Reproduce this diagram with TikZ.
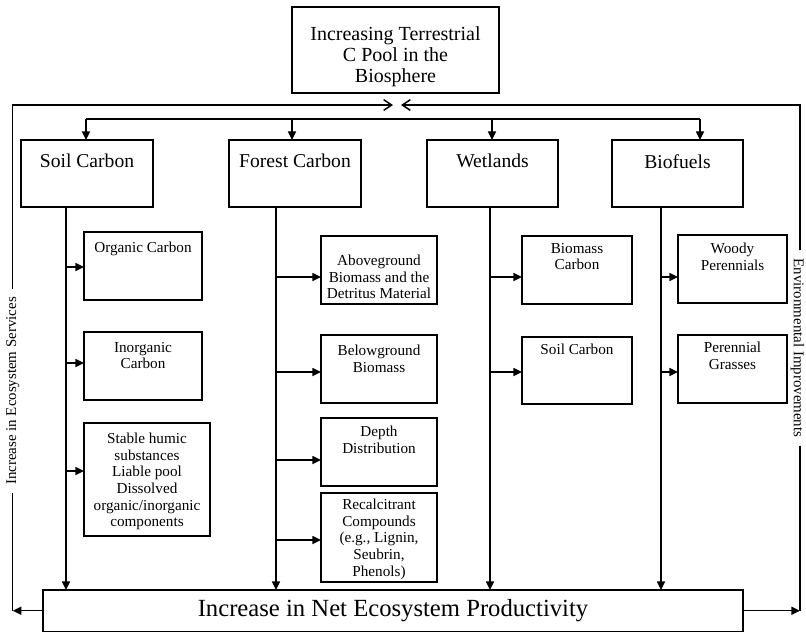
\documentclass[tikz,border=0pt]{standalone}
\usepackage{fontspec}
\setmainfont{Liberation Serif}
\usetikzlibrary{arrows.meta}

\tikzset{
  boxframe/.style={draw, line width=1.3pt, inner sep=0pt, outer sep=0pt},
  conn/.style={line width=1.1pt},
  arr/.style={conn, -{Triangle[length=6.5pt,width=6pt]}},
  openarr/.style={conn, -{Straight Barb[length=6pt,width=8pt]}},
  toptxt/.style={inner sep=0pt, align=center, font=\fontsize{15}{15.75}\selectfont},
  headtxt/.style={inner sep=0pt, align=center, font=\fontsize{14.7}{16}\selectfont},
  subtxt/.style={inner sep=0pt, align=center, font=\fontsize{11.4}{12.5}\selectfont},
  sidetxt/.style={inner xsep=6pt, inner ysep=0pt, font=\fontsize{11.2}{12}\selectfont},
  bottxt/.style={font=\fontsize{18.5}{20}\selectfont},
}

% \cbox{name}{x1}{y1}{x2}{y2}{text offset}{text style}{text}  (coordinates in px)
\newcommand\cbox[8]{%
  \node[boxframe, anchor=north west,
        minimum width={(#4-#2)*0.75pt}, minimum height={(#5-#3)*0.75pt}] (#1) at (#2,#3) {};
  \node[#7, anchor=north] (#1-txt) at ([yshift={-(#6)*0.75pt}]#1.north) {#8};
}
% \branch{trunk coordinate}{target box}{offset of the arrow below the box middle}
\newcommand\branch[3]{%
  \coordinate (#2-in) at ([yshift={-(#3)*0.75pt}]#2.west);
  \draw[arr] (#1 |- #2-in) -- (#2-in);
}

\begin{document}
\begin{tikzpicture}[x=0.75pt, y=-0.75pt]
\useasboundingbox (0,0) rectangle (806,633);

% goal box
\cbox{tp}{292}{7}{499}{93}{19}{toptxt}{Increasing Terrestrial\\C Pool in the\\Biosphere}

% four carbon pools
\cbox{sc}{21}{140}{153}{207}{14}{headtxt}{Soil Carbon}
\cbox{fc}{229}{140}{361}{207}{14}{headtxt}{Forest Carbon}
\cbox{wl}{427}{140}{558}{207}{14}{headtxt}{Wetlands}
\cbox{bf}{612}{140}{743}{207}{14}{headtxt}{Biofuels}

% soil carbon components
\cbox{oc}{84}{232}{202}{300}{9.7}{subtxt}{Organic Carbon}
\cbox{ic}{84}{332}{202}{400}{9.7}{subtxt}{Inorganic\\Carbon}
\cbox{sh}{84}{423}{210}{536}{9.7}{subtxt}{Stable humic\\substances\\Liable pool\\Dissolved\\organic/inorganic\\components}

% forest carbon components
\cbox{ag}{321}{236}{437}{304}{18.7}{subtxt}{Aboveground\\Biomass and the\\Detritus Material}
\cbox{bg}{321}{335}{437}{403}{9.7}{subtxt}{Belowground\\Biomass}
\cbox{dd}{321}{418}{437}{486}{7.7}{subtxt}{Depth\\Distribution}
\cbox{rc}{321}{493}{437}{582}{5.7}{subtxt}{Recalcitrant\\Compounds\\(e.g., Lignin,\\Seubrin,\\Phenols)}

% wetland components
\cbox{bm}{522}{236}{632}{304}{6.7}{subtxt}{Biomass\\Carbon}
\cbox{sw}{522}{337}{632}{404}{6.7}{subtxt}{Soil Carbon}

% biofuel components
\cbox{wp}{678}{235}{787}{303}{7.7}{subtxt}{Woody\\Perennials}
\cbox{pg}{678}{335}{787}{403}{6.7}{subtxt}{Perennial\\Grasses}

% outcome box
\node[boxframe, bottxt, anchor=north west, minimum width={700*0.75pt},
      minimum height={41.5*0.75pt}] (np) at (43,590) {Increase in Net Ecosystem Productivity};

% distribution line feeding the four pools
\coordinate (d1) at (86,119);
\coordinate (d2) at (292,119);
\coordinate (d3) at (492,119);
\coordinate (d4) at (700,119);
\draw[conn] (d1) -- (d4);
\draw[arr] (d1) -- (sc.north -| d1);
\draw[arr] (d2) -- (fc.north -| d2);
\draw[arr] (d3) -- (wl.north -| d3);
\draw[arr] (d4) -- (bf.north -| d4);

% trunks down to the outcome box
\coordinate (ts) at (66,0);
\coordinate (tf) at (276,0);
\coordinate (tw) at (490,0);
\coordinate (tb) at (661,0);
\draw[arr] (sc.south -| ts) -- (np.north -| ts);
\draw[arr] (fc.south -| tf) -- (np.north -| tf);
\draw[arr] (wl.south -| tw) -- (np.north -| tw);
\draw[arr] (bf.south -| tb) -- (np.north -| tb);

% branches to the components
\branch{ts}{oc}{1}
\branch{ts}{ic}{-3}
\branch{ts}{sh}{-8.5}
\branch{tf}{ag}{7}
\branch{tf}{bg}{3}
\branch{tf}{dd}{8}
\branch{tf}{rc}{2.5}
\branch{tw}{bm}{7}
\branch{tw}{sw}{1.5}
\branch{tb}{wp}{8}
\branch{tb}{pg}{3}

% feedback loop back to the terrestrial pool
\coordinate (lx) at (12.7,0);
\coordinate (rx) at (800,0);
\node[sidetxt, rotate=90] (ls) at (12.7,391) {Increase in Ecosystem Services};
\node[sidetxt, rotate=-90] (rs) at (797.5,348) {Environmental Improvements};
\coordinate (tipL) at (393,105);
\coordinate (tipR) at (401,105);
\draw[openarr] (ls.east) |- (tipL);
\draw[openarr] (rs.west -| rx) |- (tipR);
\draw[arr] (np.west) -- (np.west -| lx);
\draw[conn] (ls.west) -- (np.west -| lx);
\draw[arr] (np.east) -- (np.east -| rx);
\draw[conn] (rs.east -| rx) -- (np.east -| rx);
\end{tikzpicture}
\end{document}
